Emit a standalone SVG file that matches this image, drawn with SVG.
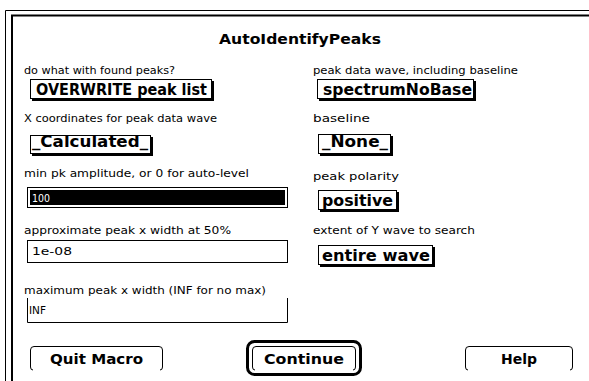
<svg xmlns="http://www.w3.org/2000/svg" width="589" height="381" viewBox="0 0 589 381">
<style>
.lbl{font-family:"DejaVu Sans",sans-serif;font-size:10px;fill:#000}
.pop{font-family:"DejaVu Sans",sans-serif;font-size:15px;font-weight:bold;fill:#000}
.btn{font-family:"DejaVu Sans",sans-serif;font-size:14px;font-weight:bold;fill:#000}
.fld{font-family:"DejaVu Sans",sans-serif;font-size:11px;fill:#000}
.box{fill:#fff;stroke:#000;stroke-width:1}
.sh{fill:none;stroke:#000;stroke-width:2}
.ln{fill:none;stroke:#000;stroke-width:1}
</style>
<rect width="589" height="381" fill="#fff"/>
<g id="frame">
<path d="M5.5,381 V10.5 H589" class="ln"/>
<path d="M12,381 V15.5 H589" fill="none" stroke="#000" stroke-width="2"/>
</g>
<g id="title"><text x="219" y="44" class="btn" textLength="162" lengthAdjust="spacingAndGlyphs">AutoIdentifyPeaks</text></g>

<g id="found-peaks">
<text x="24" y="74" class="lbl" textLength="151" lengthAdjust="spacingAndGlyphs">do what with found peaks?</text>
<rect x="30.5" y="79.5" width="181" height="19" class="box"/>
<path d="M213,81 V100 H32" class="sh"/>
<text x="36" y="95" class="pop" textLength="171" lengthAdjust="spacingAndGlyphs">OVERWRITE peak list</text>
</g>
<g id="x-coords">
<text x="24" y="122" class="lbl" textLength="193" lengthAdjust="spacingAndGlyphs">X coordinates for peak data wave</text>
<rect x="30.5" y="135.5" width="120" height="18" class="box"/>
<path d="M152,137 V155 H32" class="sh"/>
<text x="32" y="147" class="pop" textLength="116" lengthAdjust="spacingAndGlyphs">_Calculated_</text>
</g>
<g id="min-amp">
<text x="24" y="177" class="lbl" textLength="225" lengthAdjust="spacingAndGlyphs">min pk amplitude, or 0 for auto-level</text>
<rect x="27.5" y="187.5" width="260" height="20" class="box"/>
<rect x="30" y="190" width="255" height="15" fill="#000"/>
<text x="32" y="202" class="fld" style="fill:#fff" textLength="18" lengthAdjust="spacingAndGlyphs">100</text>
</g>
<g id="approx-width">
<text x="24" y="234" class="lbl" textLength="207" lengthAdjust="spacingAndGlyphs">approximate peak x width at 50%</text>
<rect x="27.5" y="240.5" width="260" height="22" class="box"/>
<text x="32" y="255" class="fld" textLength="40" lengthAdjust="spacingAndGlyphs">1e-08</text>
</g>
<g id="max-width">
<text x="24" y="294" class="lbl" textLength="242" lengthAdjust="spacingAndGlyphs">maximum peak x width (INF for no max)</text>
<path d="M27.5,298 V322.5 H287.5 V298" class="ln"/>
<text x="29" y="314" class="fld" textLength="17" lengthAdjust="spacingAndGlyphs">INF</text>
</g>

<g id="peak-wave">
<text x="313" y="74" class="lbl" textLength="205" lengthAdjust="spacingAndGlyphs">peak data wave, including baseline</text>
<rect x="317.5" y="79.5" width="156" height="19" class="box"/>
<path d="M475,81 V100 H319" class="sh"/>
<text x="323" y="95" class="pop" textLength="149" lengthAdjust="spacingAndGlyphs">spectrumNoBase</text>
</g>
<g id="baseline">
<text x="313" y="122" class="lbl" textLength="57" lengthAdjust="spacingAndGlyphs">baseline</text>
<rect x="318.5" y="134.5" width="72" height="19" class="box"/>
<path d="M392,136 V155 H320" class="sh"/>
<text x="322" y="147" class="pop" textLength="66" lengthAdjust="spacingAndGlyphs">_None_</text>
</g>
<g id="polarity">
<text x="313" y="180" class="lbl" textLength="86" lengthAdjust="spacingAndGlyphs">peak polarity</text>
<rect x="318.5" y="190.5" width="78" height="19" class="box"/>
<path d="M398,192 V211 H320" class="sh"/>
<text x="322" y="206" class="pop" textLength="71" lengthAdjust="spacingAndGlyphs">positive</text>
</g>
<g id="extent">
<text x="313" y="234" class="lbl" textLength="162" lengthAdjust="spacingAndGlyphs">extent of Y wave to search</text>
<rect x="318.5" y="245.5" width="114" height="19" class="box"/>
<path d="M434,247 V266 H320" class="sh"/>
<text x="322" y="261" class="pop" textLength="108" lengthAdjust="spacingAndGlyphs">entire wave</text>
</g>

<g id="quit-button">
<path d="M33,370 Q30.5,370 30.5,367 V350 Q30.5,346.5 34,346.5 H159 Q162.5,346.5 162.5,350 V367 Q162.5,370 160,370" class="ln"/>
<text x="96.5" y="364" class="btn" text-anchor="middle" textLength="93" lengthAdjust="spacingAndGlyphs">Quit Macro</text>
</g>
<g id="continue-button">
<rect x="247.5" y="341.5" width="113" height="33" rx="7" fill="none" stroke="#000" stroke-width="3"/>
<path d="M255,370 Q252.5,370 252.5,367 V350 Q252.5,346.5 256,346.5 H352 Q355.5,346.5 355.5,350 V367 Q355.5,370 353,370" class="ln"/>
<text x="304" y="364" class="btn" text-anchor="middle" textLength="80" lengthAdjust="spacingAndGlyphs">Continue</text>
</g>
<g id="help-button">
<path d="M468,370 Q465.5,370 465.5,367 V350 Q465.5,346.5 469,346.5 H569 Q572.5,346.5 572.5,350 V367 Q572.5,370 570,370" class="ln"/>
<text x="519" y="364" class="btn" text-anchor="middle" textLength="36" lengthAdjust="spacingAndGlyphs">Help</text>
</g>
</svg>
